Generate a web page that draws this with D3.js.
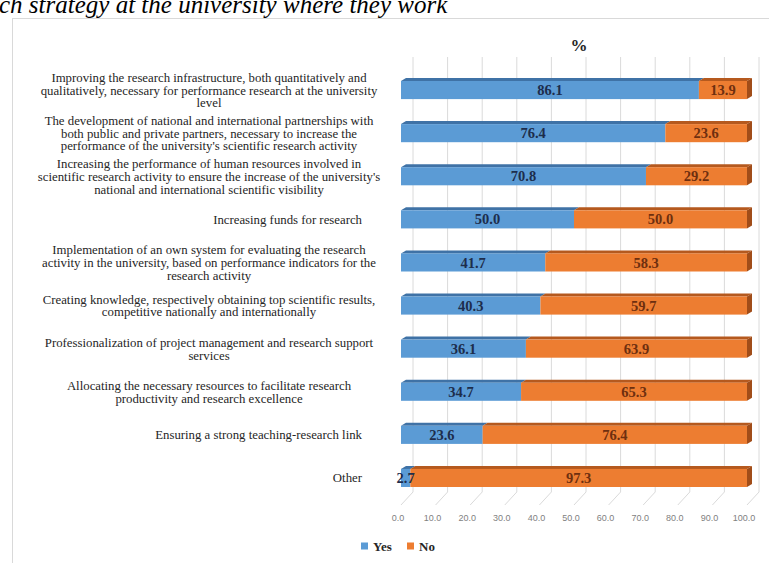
<!DOCTYPE html>
<html>
<head>
<meta charset="utf-8">
<title>Research strategy</title>
<style>
  html, body {margin: 0; padding: 0; background: #ffffff; overflow: hidden;}
  svg {display: block;}
</style>
</head>
<body>
<div id="chart"></div>
<script src="https://cdn.jsdelivr.net/npm/d3@7"></script>
<script>
// categories, top to bottom, already wrapped the way the picture shows them
var categories = [
  ["Improving the research infrastructure, both quantitatively and",
   "qualitatively, necessary for performance research at the university",
   "level"],
  ["The development of national and international partnerships with",
   "both public and private partners, necessary to increase the",
   "performance of the university's scientific research activity"],
  ["Increasing the performance of human resources involved in",
   "scientific research activity to ensure the increase of the university's",
   "national and international scientific visibility"],
  ["Increasing funds for research"],
  ["Implementation of an own system for evaluating the research",
   "activity in the university, based on performance indicators for the",
   "research activity"],
  ["Creating knowledge, respectively obtaining top scientific results,",
   "competitive nationally and internationally"],
  ["Professionalization of project management and research support",
   "services"],
  ["Allocating the necessary resources to facilitate research",
   "productivity and research excellence"],
  ["Ensuring a strong teaching-research link"],
  ["Other"]
];
var yesValues = [86.1, 76.4, 70.8, 50.0, 41.7, 40.3, 36.1, 34.7, 23.6, 2.7];
var noValues  = [13.9, 23.6, 29.2, 50.0, 58.3, 59.7, 63.9, 65.3, 76.4, 97.3];
var xTicks = [0, 10, 20, 30, 40, 50, 60, 70, 80, 90, 100];
var seriesNames = ["Yes", "No"];

var width = 769, height = 563;
var serif = "'Liberation Serif', 'Times New Roman', serif";
var sans = "'Liberation Sans', Arial, sans-serif";

// face colours: front, top, side
var colors = {
  Yes: {front: "#5b9bd5", top: "#3f72a6", side: "#3a6a99"},
  No:  {front: "#ed7d31", top: "#b5591e", side: "#a14d19"}
};

var svg = d3.select("#chart").append("svg")
    .attr("width", width)
    .attr("height", height);

// cut-off caption above the figure frame
svg.append("text")
    .attr("x", -1)
    .attr("y", 13)
    .style("font-family", serif)
    .style("font-style", "italic")
    .style("font-size", "25px")
    .attr("fill", "#000")
    .text("ch strategy at the university where they work");

svg.append("rect")
    .attr("x", 12.5).attr("y", 18.5)
    .attr("width", 800).attr("height", 600)
    .attr("fill", "none")
    .attr("stroke", "#d9d9d9");

// scales
var x = d3.scaleLinear().domain([0, 100]).range([401, 747]);
var y = d3.scaleBand()
    .domain(d3.range(categories.length))
    .range([68.5, 499.5])
    .paddingInner(0.58)
    .paddingOuter(0.29);

// 3D offsets: the wall behind and the bars' own depth
var wallDx = 12, wallDy = -13;
var barDx = 5, barDy = -3;
var floorY = 505, wallTop = 57;

// back wall grid + floor lines
var grid = svg.append("g");
grid.selectAll(".wall")
    .data(xTicks)
  .enter().append("line")
    .attr("x1", function(d) { return x(d) + wallDx; })
    .attr("x2", function(d) { return x(d) + wallDx; })
    .attr("y1", wallTop)
    .attr("y2", floorY + wallDy)
    .attr("stroke", "#dadada");
grid.selectAll(".floor")
    .data(xTicks)
  .enter().append("line")
    .attr("x1", function(d) { return x(d); })
    .attr("x2", function(d) { return x(d) + wallDx; })
    .attr("y1", floorY)
    .attr("y2", floorY + wallDy)
    .attr("stroke", "#dadada");

// tick labels on the front edge of the floor
svg.append("g").selectAll("text")
    .data(xTicks)
  .enter().append("text")
    .attr("x", function(d) { return x(d) - 3; })
    .attr("y", 521)
    .attr("text-anchor", "middle")
    .style("font-family", sans)
    .style("font-size", "9px")
    .attr("fill", "#7f7f7f")
    .text(function(d) { return d3.format(".1f")(d); });

// stacked segments
var rows = categories.map(function(c, i) {
  return [
    {key: "Yes", i: i, x0: 0, x1: yesValues[i], v: yesValues[i]},
    {key: "No", i: i, x0: yesValues[i], x1: yesValues[i] + noValues[i], v: noValues[i]}
  ];
});
var segs = d3.merge(rows);

var bars = svg.append("g");
var seg = bars.selectAll(".seg")
    .data(segs)
  .enter().append("g")
    .attr("class", "seg");

// top face
seg.append("path")
    .attr("fill", function(d) { return colors[d.key].top; })
    .attr("d", function(d) {
      var a = x(d.x0), b = x(d.x1), t = y(d.i);
      return "M" + a + "," + t + "L" + b + "," + t +
             "L" + (b + barDx) + "," + (t + barDy) +
             "L" + (a + barDx) + "," + (t + barDy) + "Z";
    });
// front face
seg.append("rect")
    .attr("x", function(d) { return x(d.x0); })
    .attr("y", function(d) { return y(d.i); })
    .attr("width", function(d) { return x(d.x1) - x(d.x0); })
    .attr("height", y.bandwidth())
    .attr("fill", function(d) { return colors[d.key].front; });
// end face, only on the outer segment
seg.filter(function(d) { return d.key === "No"; })
  .append("path")
    .attr("fill", function(d) { return colors[d.key].side; })
    .attr("d", function(d) {
      var b = x(d.x1), t = y(d.i), h = y.bandwidth();
      return "M" + b + "," + t + "L" + (b + barDx) + "," + (t + barDy) +
             "L" + (b + barDx) + "," + (t + h + barDy) +
             "L" + b + "," + (t + h) + "Z";
    });

// value labels, drawn over all bars so the small 2.7 stays visible
svg.append("g").selectAll(".val")
    .data(segs)
  .enter().append("text")
    .attr("class", "val")
    .attr("x", function(d) { return (x(d.x0) + x(d.x1)) / 2; })
    .attr("y", function(d) { return y(d.i) + y.bandwidth() / 2; })
    .attr("dy", "0.35em")
    .attr("text-anchor", "middle")
    .style("font-family", serif)
    .style("font-weight", "bold")
    .style("font-size", "14.5px")
    .attr("fill", function(d) { return d.key === "Yes" ? "#1d2d4c" : "#6e2f0f"; })
    .text(function(d) { return d3.format(".1f")(d.v); });

// category labels: wrapped ones centred in a fixed box, single lines right-aligned
var lineH = 12.8;
var cat = svg.append("g").selectAll(".cat")
    .data(categories)
  .enter().append("text")
    .attr("class", "cat")
    .style("font-family", serif)
    .style("font-size", "12.8px")
    .attr("fill", "#262626")
    .attr("text-anchor", function(d) { return d.length > 1 ? "middle" : "end"; });
cat.selectAll("tspan")
    .data(function(d, i) {
      return d.map(function(line, k) { return {line: line, k: k, n: d.length, i: i}; });
    })
  .enter().append("tspan")
    .attr("x", function(d) { return d.n > 1 ? 209 : 362; })
    .attr("y", function(d) {
      return y(d.i) + y.bandwidth() / 2 + (d.k - (d.n - 1) / 2) * lineH;
    })
    .attr("dy", "0.35em")
    .text(function(d) { return d.line; });

// axis title
svg.append("text")
    .attr("x", 579)
    .attr("y", 45)
    .attr("dy", "0.35em")
    .attr("text-anchor", "middle")
    .style("font-family", serif)
    .style("font-weight", "bold")
    .style("font-size", "17px")
    .attr("fill", "#262626")
    .text("%");

// legend
var legend = svg.append("g").selectAll(".key")
    .data(seriesNames)
  .enter().append("g")
    .attr("class", "key")
    .attr("transform", function(d, i) { return "translate(" + (361 + i * 46) + ",546)"; });
legend.append("rect")
    .attr("x", 0).attr("y", -3.5)
    .attr("width", 7).attr("height", 7)
    .attr("fill", function(d) { return colors[d].front; });
legend.append("text")
    .attr("x", 12)
    .attr("dy", "0.35em")
    .style("font-family", serif)
    .style("font-weight", "bold")
    .style("font-size", "13px")
    .attr("fill", "#262626")
    .text(function(d) { return d; });
</script>
</body>
</html>
